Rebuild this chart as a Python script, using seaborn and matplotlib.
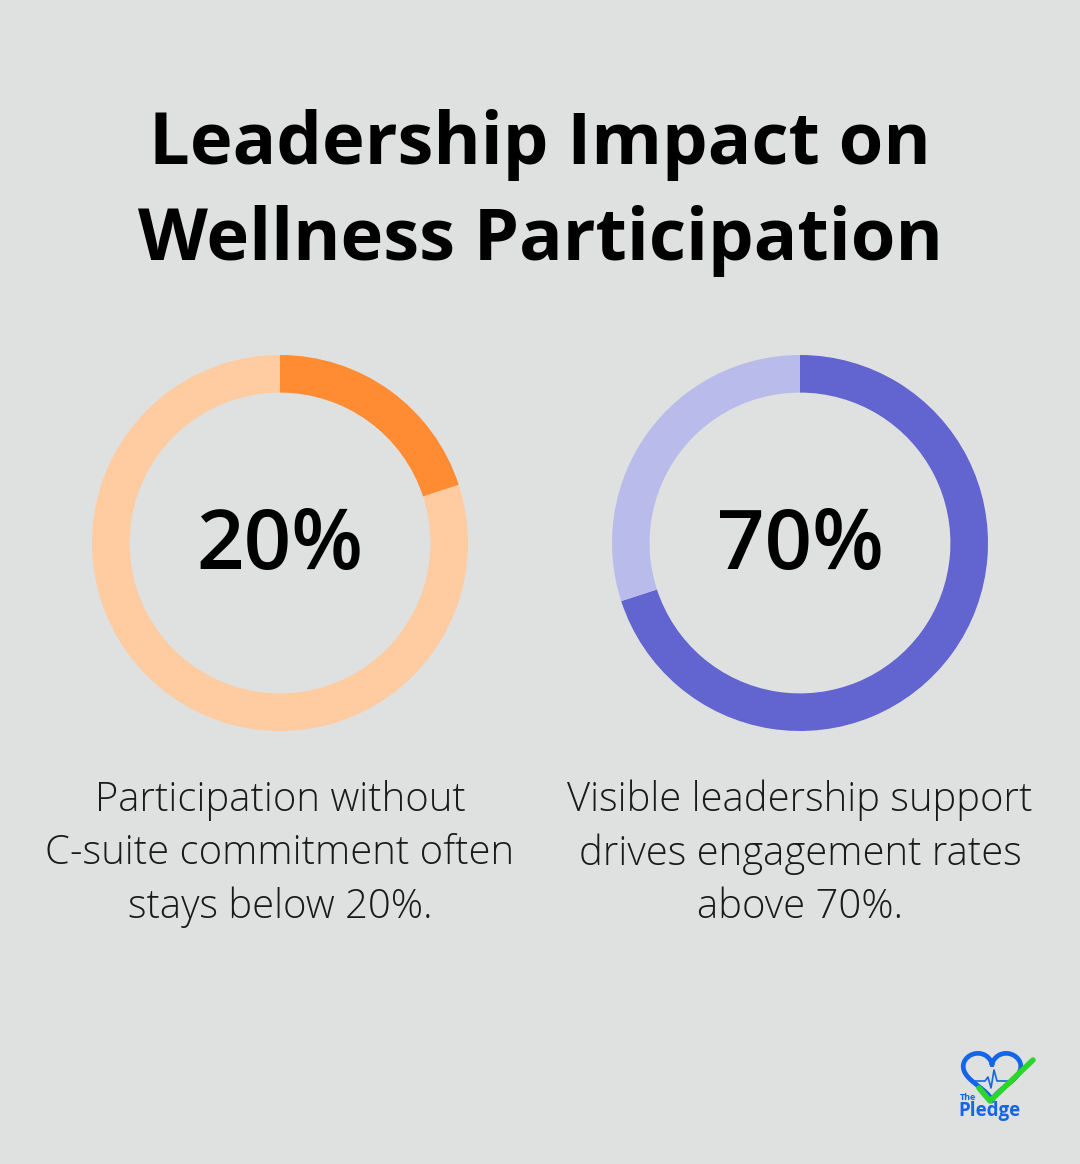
import numpy as np
import matplotlib.pyplot as plt
import seaborn as sns

# Datos
titulo = "Leadership Impact on\nWellness Participation"
valores = [20, 70]
etiquetas = ["20%", "70%"]
descripciones = [
    "Participation without\nC-suite commitment often\nstays below 20%.",
    "Visible leadership support\ndrives engagement rates\nabove 70%.",
]
colores = [("#FF8C33", "#FFCBA0"), ("#6264D0", "#B9BCEA")]
centros_x = [280, 800]

fondo = "#DFE1E0"
sns.set_theme(style="white")
plt.rcParams["font.family"] = ["Open Sans", "DejaVu Sans"]

W, H = 1080, 1164
fig = plt.figure(figsize=(W / 100, H / 100), dpi=100, facecolor=fondo)

# Titulo
fig.text(0.5, 1 - 193 / H, titulo, ha="center", va="center", fontsize=52,
         fontweight="bold", color="#000000", linespacing=1.42)

# Donas
r = 188
cy = 543
for v, etq, desc, (c1, c2), cx in zip(valores, etiquetas, descripciones, colores, centros_x):
    ax = fig.add_axes([(cx - r) / W, (H - cy - r) / H, 2 * r / W, 2 * r / H])
    ax.pie([v, 100 - v], colors=[c1, c2], startangle=90, counterclock=False,
           radius=1, wedgeprops=dict(width=0.2, linewidth=0))
    ax.set_xlim(-1, 1)
    ax.set_ylim(-1, 1)
    ax.set_aspect("auto")
    ax.axis("off")
    ax.text(0, -0.02, etq, ha="center", va="center", fontsize=60, color="#000000",
            fontweight="semibold")
    fig.text(cx / W, 1 - 854 / H, desc, ha="center", va="center", fontsize=28.8,
             fontweight="light", color="#1a1a1a", linespacing=1.40)

# Logo
axl = fig.add_axes([955 / W, (H - 1122) / H, 85 / W, 80 / H])
axl.set_xlim(955, 1040)
axl.set_ylim(1122, 1042)
axl.axis("off")
t = np.linspace(0, 2 * np.pi, 200)
hx = 16 * np.sin(t) ** 3
hy = 13 * np.cos(t) - 5 * np.cos(2 * t) - 2 * np.cos(3 * t) - np.cos(4 * t)
axl.plot(992 + hx * 1.8, 1073 - hy * 1.65, color="#1565E8", lw=3.4, solid_capstyle="round")
axl.plot([975, 985, 988, 991, 994, 997, 1008], [1081, 1081, 1077, 1088, 1070, 1081, 1081],
         color="#1565E8", lw=1.2)
axl.plot([979, 990, 1033], [1088, 1101, 1060], color="#2BD62B", lw=4, solid_capstyle="round")
axl.text(960, 1097, "The", fontsize=6.5, color="#1565E8", fontweight="bold", va="center")
axl.text(958, 1111, "Pledge", fontsize=13.5, color="#1565E8", fontweight="bold", va="center")

fig.savefig("out.png", dpi=100, facecolor=fondo)
